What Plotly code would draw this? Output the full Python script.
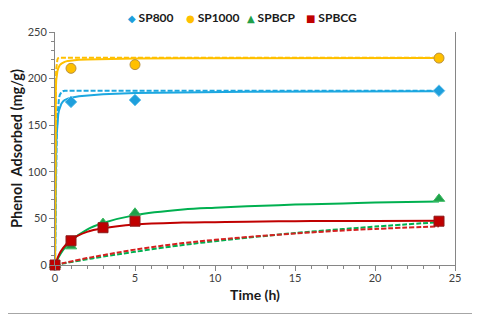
import plotly.graph_objects as go

# measured data points
t_sp800 = [0, 1, 5, 24]
q_sp800 = [0, 175, 177, 187]
t_sp1000 = [0, 1, 5, 24]
q_sp1000 = [0, 211, 215, 222]
t_spbcp = [0, 1, 3, 5, 24]
q_spbcp = [0, 20, 45, 56, 71]
t_spbcg = [0, 1, 3, 5, 24]
q_spbcg = [0, 26, 40, 47, 47]

series_names = ["SP800", "SP1000", "SPBCP", "SPBCG"]

# model curves (solid = second order, dashed = first order)
tc_fast = [0, 0.01, 0.02, 0.035, 0.05, 0.075, 0.1, 0.15, 0.2, 0.25, 0.3, 0.4, 0.5, 0.6, 0.8, 1, 1.5, 2, 3, 5, 8, 12, 24]
sp800_solid = [0, 35, 60, 88, 105, 124, 138, 153, 161, 166, 169, 173, 175.5, 177, 178.5, 179.5, 181, 182, 183.3, 184.5, 185.3, 185.8, 186.3]
sp800_dash = [0, 22, 42, 68, 88, 115, 134, 159, 172, 179, 182.5, 185.5, 186.5, 187, 187, 187, 187, 187, 187, 187, 187, 187, 187]
sp1000_solid = [0, 110, 150, 175, 188, 198, 203, 208, 211, 213, 214.5, 216, 217, 218, 219, 219.5, 220.2, 220.6, 221, 221.5, 221.8, 222, 222.2]
sp1000_dash = [0, 80, 130, 172, 195, 210, 216, 220.5, 222, 222.5, 222.5, 222.5, 222.5, 222.5, 222.5, 222.5, 222.5, 222.5, 222.5, 222.5, 222.5, 222.5, 222.5]

tc_slow = [0, 0.25, 0.5, 1, 2, 3, 5, 8, 10, 12, 15, 18, 20, 24]
spbcp_solid = [0, 9, 16, 26, 38, 45, 53.5, 59.5, 61.5, 63, 64.8, 66, 67, 68]
spbcg_solid = [0, 11, 18, 27, 35.5, 39.5, 43.5, 45.5, 46, 46.5, 47, 47.2, 47.3, 47.6]
spbcp_dash = [0, 0.8, 1.5, 3.1, 6.1, 9, 14.2, 21.5, 25.5, 29.2, 34.3, 38.6, 41.2, 46]
spbcg_dash = [0, 1, 2, 3.8, 7.4, 10.5, 16.5, 23.5, 27, 30, 33.8, 37, 38.7, 41.5]

BLUE = "#1CA7E0"
YELLOW = "#FFC000"
GREEN = "#00B050"
RED = "#C00000"

fig = go.Figure()

def curve(x, y, color, dash, shape="linear"):
    fig.add_trace(go.Scatter(x=x, y=y, mode="lines", showlegend=False, hoverinfo="skip",
                             line=dict(color=color, width=2, dash=dash, shape=shape)))

curve(tc_fast, sp800_dash, BLUE, "5px,2px")
curve(tc_fast, sp800_solid, BLUE, "solid")
curve(tc_fast, sp1000_dash, YELLOW, "5px,2px")
curve(tc_fast, sp1000_solid, YELLOW, "solid")
curve(tc_slow, spbcp_dash, GREEN, "5px,2px", "spline")
curve(tc_slow, spbcg_dash, "#D62020", "5px,2px", "spline")
curve(tc_slow, spbcp_solid, GREEN, "solid", "spline")
curve(tc_slow, spbcg_solid, RED, "solid", "spline")

mk_colors = ["#1E9FDC", YELLOW, "#1FA04A", RED]
fig.add_trace(go.Scatter(x=t_sp800, y=q_sp800, mode="markers", name=series_names[0], cliponaxis=False,
                         showlegend=False,
                         marker=dict(symbol="diamond", size=9, color=mk_colors[0],
                                     line=dict(color="#6FC6EC", width=1))))
fig.add_trace(go.Scatter(x=t_sp1000, y=q_sp1000, mode="markers", name=series_names[1], cliponaxis=False,
                         showlegend=False,
                         marker=dict(symbol="circle", size=10, color=mk_colors[1],
                                     line=dict(color="#B89040", width=1))))
fig.add_trace(go.Scatter(x=t_spbcp, y=q_spbcp, mode="markers", name=series_names[2], cliponaxis=False,
                         showlegend=False,
                         marker=dict(symbol="triangle-up", size=10, color=mk_colors[2],
                                     line=dict(color="#3DBB63", width=1))))
fig.add_trace(go.Scatter(x=t_spbcg, y=q_spbcg, mode="markers", name=series_names[3], cliponaxis=False,
                         showlegend=False,
                         marker=dict(symbol="square", size=10, color=mk_colors[3],
                                     line=dict(color="#8B1A1A", width=1))))

# page has an 8px body margin: figure origin sits at page (8, 8)
OFF = 8
W, H = 480 - OFF, 314 - OFF
L, T = 55 - OFF, 32 - OFF
R = W - (455 - OFF)
B = H - (265 - OFF)
pw, ph = W - L - R, H - T - B

def px(x_page):
    return (x_page - OFF - L) / pw

def py(y_page):
    return (H - B - (y_page - OFF)) / ph

fig.add_shape(type="rect", xref="paper", yref="paper",
              x0=px(0.5), x1=px(479.5), y0=py(0.5), y1=py(313.5),
              line=dict(color="#A6A6A6", width=1), fillcolor="rgba(0,0,0,0)", layer="below")

# legend drawn as text items (symbol + bold name)
legend_glyphs = ["◆", "●", "▲", "■"]
legend_x = [127, 185, 246, 305]
for g, name, col, lx in zip(legend_glyphs, series_names, mk_colors, legend_x):
    fig.add_annotation(
        xref="paper", yref="paper", x=px(lx), y=py(8.5), xanchor="left", yanchor="top",
        showarrow=False, borderpad=0,
        text=f'<span style="color:{col};font-family:DejaVu Sans;font-size:10px">{g}</span>'
             f'<b> {name}</b>',
        font=dict(size=12, color="#1A1A1A", family="Lato, Arial, sans-serif"))

fig.update_layout(
    width=W, height=H,
    margin=dict(l=L, r=R, t=T, b=B, autoexpand=False),
    paper_bgcolor="white", plot_bgcolor="white",
    showlegend=False,
    font=dict(family="Lato, Arial, sans-serif", color="#404040"),
    xaxis=dict(range=[0, 25], tickmode="linear", tick0=0, dtick=5, showgrid=False, zeroline=False,
               automargin=False,
               showline=True, linecolor="#868686", linewidth=1, ticks="outside", ticklen=5,
               ticklabelstandoff=-2,
               tickcolor="#868686", tickfont=dict(size=11, color="#404040"),
               minor=dict(ticks="outside", dtick=1, ticklen=3, tickcolor="#868686", showgrid=False),
               title=dict(text="<b>Time (h)</b>", font=dict(size=14, color="#1A1A1A"), standoff=6)),
    yaxis=dict(range=[0, 250], tickmode="linear", tick0=0, dtick=50, showgrid=False, zeroline=False,
               automargin=False,
               showline=True, linecolor="#868686", linewidth=1, mirror=True, ticks="outside", ticklen=5,
               tickcolor="#868686", tickfont=dict(size=11, color="#404040"),
               minor=dict(ticks="outside", dtick=10, ticklen=3, tickcolor="#868686", showgrid=False),
               title=dict(text="<b>Phenol  Adsorbed (mg/g)</b>", font=dict(size=14.5, color="#1A1A1A"), standoff=2)),
)

fig.write_html("out.html")
